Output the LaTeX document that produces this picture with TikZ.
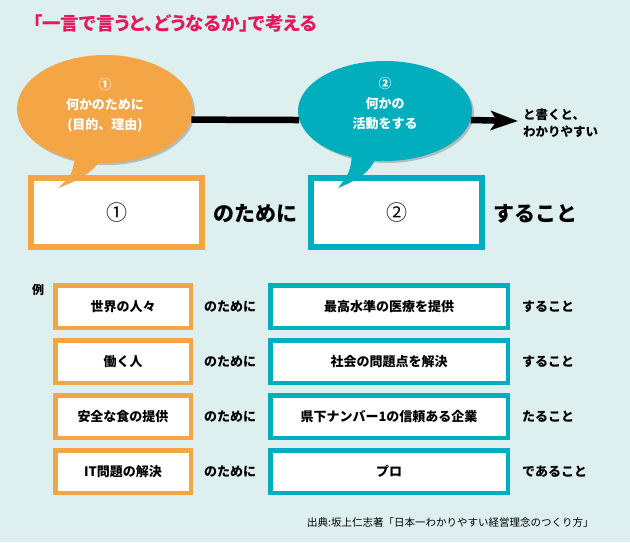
\documentclass[tikz,border=0pt]{standalone}
\usepackage{fontspec}
\setmainfont{Noto Sans CJK JP}
\newfontfamily\paltfont{Noto Sans CJK JP}[RawFeature=+palt]
\usepackage{tikz}
\usetikzlibrary{arrows.meta,positioning,shapes.geometric,shadows}
\definecolor{bgc}{HTML}{DDEFEF}
\definecolor{orng}{HTML}{F4A545}
\definecolor{tealc}{HTML}{00AEBE}
\definecolor{titlec}{HTML}{E4185B}

\begin{document}
\begin{tikzpicture}[
  x=1pt,y=-1pt,
  node distance=8pt,
  shad/.style={drop shadow={shadow xshift=2pt,shadow yshift=-2pt,opacity=0.3,fill=black!70}},
  bubble/.style={ellipse,shad,inner sep=0pt},
  btext/.style={text=white,align=center,font=\fontsize{13}{20}\selectfont\bfseries},
  bigbox/.style={draw,line width=6pt,fill=white,shad,minimum width=171pt,minimum height=69pt,inner sep=0pt,font=\fontsize{21}{21}\selectfont},
  obox/.style={draw=orng,line width=4.5pt,fill=white,shad,minimum width=135.5pt,minimum height=42.5pt,inner sep=0pt,font=\fontsize{13}{13}\selectfont\bfseries},
  tbox/.style={obox,draw=tealc,minimum width=237.5pt},
  word/.style={font=\fontsize{13}{13}\selectfont\bfseries,inner sep=0pt},
  bigword/.style={font=\fontsize{21}{21}\selectfont\bfseries,inner sep=0pt},
  bar/.style={line width=6.5pt,draw=black}
]
\useasboundingbox (0,0) rectangle (630,542);
\fill[bgc] (0,0) rectangle (630,542);

% title
\node[anchor=west,text=titlec,font=\paltfont\fontsize{18.5}{18.5}\selectfont\bfseries,inner sep=0pt] (title) at (33,23) {「一言で言うと、どうなるか」で考える};

% top formula
\node[bigbox,draw=orng] (purpose) at (116.5,212.5) {①};
\node[bigword] (tameni) at (255,214) {のために};
\node[bigbox,draw=tealc] (action) at (396.5,212.5) {②};
\node[bigword,anchor=west] (suru) at (493,214) {すること};

% speech bubbles
\node[bubble,fill=orng,minimum width=176pt,minimum height=108pt] (why) at (105,109) {};
\fill[orng] (75,157) .. controls (72,175) .. (58,188) .. controls (80,180) and (92,172) .. (100,161) -- cycle;
\node[btext] (whytext) at (105,105) {①\\何かのために\\(目的、理由)};
\node[bubble,fill=tealc,minimum width=174pt,minimum height=100pt] (how) at (385,111) {};
\fill[tealc] (352,155) .. controls (350,172) .. (338,188) .. controls (358,180) and (370,172) .. (376,158) -- cycle;
\node[btext] (howtext) at (385,103.5) {②\\何かの\\活動をする};

\coordinate (tip) at (518,121);
\draw[bar] (why.-7.3) -- (how.186);
\draw[bar,-{Stealth[length=27pt,width=19pt,inset=6pt]}] (how.-6) -- (tip);
\node[anchor=west,align=left,font=\fontsize{12.5}{17}\selectfont\bfseries,inner sep=0pt] (easy) at (523,123.5) {と書くと、\\わかりやすい};

% examples
\node[font=\fontsize{12}{12}\selectfont\bfseries,inner sep=0pt] (rei) at (38,290) {例};
\node[obox] (o1) at (123,306.5) {世界の人々};
\node[obox,below=of o1] (o2) {働く人};
\node[obox,below=of o2] (o3) {安全な食の提供};
\node[obox,below=of o3] (o4) {IT問題の解決};
\node[tbox] (t1) at (389,306.5) {最高水準の医療を提供};
\node[tbox,below=of t1] (t2) {社会の問題点を解決};
\node[tbox,below=of t2] (t3) {県下ナンバー1の信頼ある企業};
\node[tbox,below=of t3] (t4) {プロ};
\foreach \r/\e in {1/すること,2/すること,3/たること,4/であること}{
  \node[word] (m\r) at (230,0 |- o\r) {のために};
  \node[word,anchor=west] (e\r) at (522,0 |- t\r) {\e};
}

% source
\node[anchor=west,font=\fontsize{10.5}{10.5}\selectfont,inner sep=0pt] (src) at (307,523) {出典:坂上仁志著「日本一わかりやすい経営理念のつくり方」};
\end{tikzpicture}
\end{document}
